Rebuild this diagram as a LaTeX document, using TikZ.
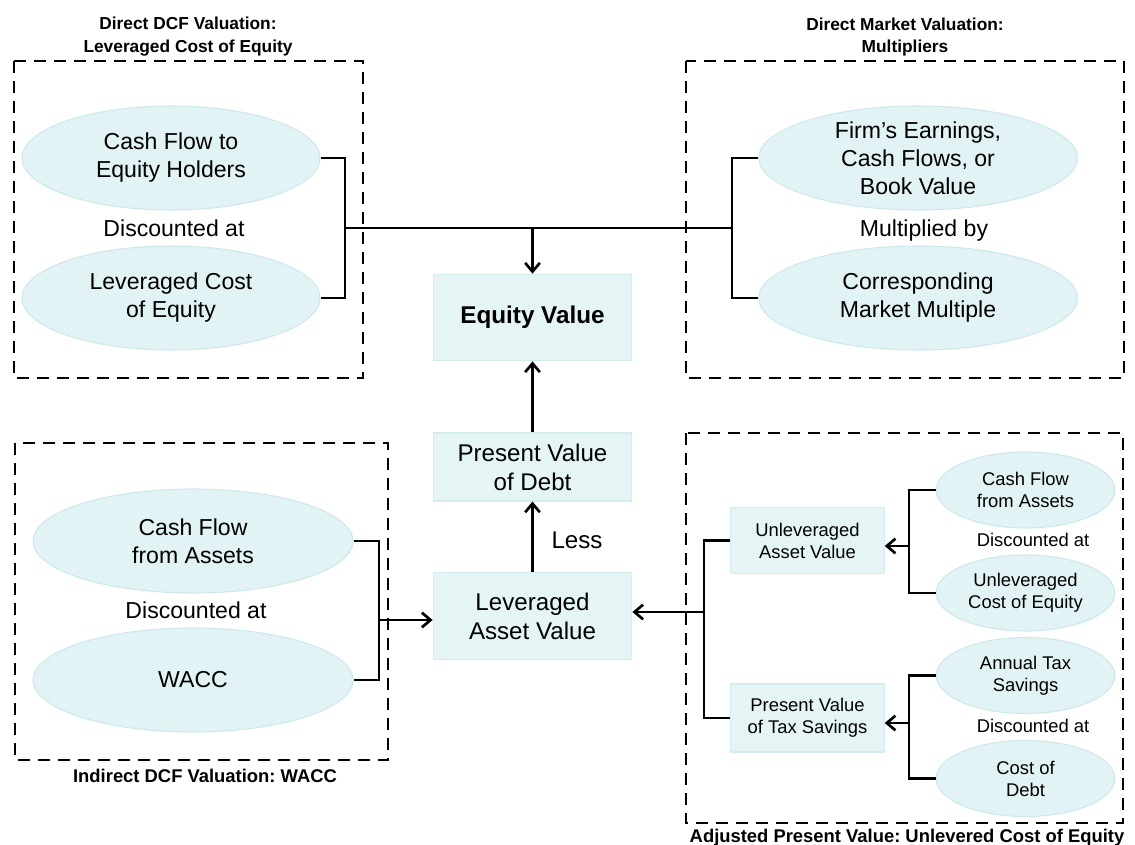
\documentclass[tikz,border=0pt]{standalone}
\usepackage{fontspec}
\setmainfont{Liberation Sans}
\frenchspacing
\usetikzlibrary{shapes.geometric,arrows.meta}
\definecolor{ellF}{HTML}{E2F3F5}
\definecolor{ellD}{HTML}{CDE8EC}
\definecolor{boxF}{HTML}{E5F5F5}
\definecolor{boxD}{HTML}{D3ECEE}
\begin{document}
\begin{tikzpicture}[x=0.75pt,y=-0.75pt,
  oval/.style={ellipse, draw=ellD, fill=ellF, line width=0.8pt, inner sep=0pt, align=center},
  vbox/.style={rectangle, draw=boxD, fill=boxF, line width=0.8pt, inner sep=0pt, align=center},
  frame/.style={draw, line width=2.1pt, dash pattern=on 9pt off 6pt},
  conn/.style={line width=2pt},
  arr/.style={conn, -{Straight Barb[length=6.5pt,width=11pt]}},
  big/.style={font=\fontsize{17.3}{21}\selectfont},
  mid/.style={font=\fontsize{18.1}{21.8}\selectfont},
  small/.style={font=\fontsize{13.8}{16.5}\selectfont},
  ttl/.style={font=\fontsize{13}{17.2}\selectfont\bfseries, align=center},
  ttlb/.style={font=\fontsize{13.8}{17}\selectfont\bfseries}]
\useasboundingbox (0,0) rectangle (1135,845);
\fill[white] (0,0) rectangle (1135,845);

% frames
\draw[frame] (14,61) rectangle (363,378);
\draw[frame] (686,61) rectangle (1124,378);
\draw[frame] (15,443) rectangle (388,760);
\draw[frame] (686,433) rectangle (1123,823);

% titles
\node[ttl] (t1) at (188,37) {Direct DCF Valuation:\\Leveraged Cost of Equity};
\node[ttl] (t2) at (905,37) {Direct Market Valuation:\\Multipliers};
\node[ttlb, anchor=base] (t3) at (205,782) {Indirect DCF Valuation: WACC};
\node[ttlb, anchor=base] (t4) at (907,842) {Adjusted Present Value: Unlevered Cost of Equity};

% top-left
\node[oval, big, minimum width=223.5pt, minimum height=78pt] (e1) at (171,158) {Cash Flow to\\Equity Holders};
\node[big, anchor=base] (d1) at (174,236) {Discounted at};
\node[oval, big, minimum width=223.5pt, minimum height=78pt] (e2) at (171,298) {Leveraged Cost\\of Equity};

% top-right
\node[oval, big, minimum width=239pt, minimum height=78pt] (f1) at (918,158) {Firm’s Earnings,\\Cash Flows, or\\Book Value};
\node[big, anchor=base] (m1) at (924,236) {Multiplied by};
\node[oval, big, minimum width=239pt, minimum height=78pt] (f2) at (918,298) {Corresponding\\Market Multiple};

% bottom-left
\node[oval, big, minimum width=240pt, minimum height=78pt] (c1) at (193,541) {Cash Flow\\from Assets};
\node[big, anchor=base] (d2) at (196,618) {Discounted at};
\node[oval, big, minimum width=240pt, minimum height=78pt] (c2) at (193,680) {WACC};

% center
\node[vbox, minimum width=149pt, minimum height=65pt, font=\fontsize{18.2}{21.8}\selectfont\bfseries] (ev) at (532.5,317.5) {Equity Value};
\node[vbox, mid, minimum width=149pt, minimum height=51pt] (pvd) at (532.5,467) {Present Value\\of Debt};
\node[vbox, mid, minimum width=149pt, minimum height=65pt] (lav) at (532.5,616) {Leveraged\\Asset Value};
\node[mid, anchor=base] (less) at (577,548) {Less};

% bottom-right
\node[vbox, small, minimum width=115pt, minimum height=50pt] (uav) at (807.5,540.5) {Unleveraged\\Asset Value};
\node[vbox, small, minimum width=115pt, minimum height=51pt] (pvts) at (807.5,718) {Present Value\\of Tax Savings};
\node[oval, small, minimum width=134pt, minimum height=57pt] (a1) at (1025.5,490) {Cash Flow\\from Assets};
\node[small, anchor=base] (d3) at (1033,546) {Discounted at};
\node[oval, small, minimum width=134pt, minimum height=57pt] (a2) at (1025.5,593) {Unleveraged\\Cost of Equity};
\node[oval, small, minimum width=134pt, minimum height=57pt] (a3) at (1025.5,675.5) {Annual Tax\\Savings};
\node[small, anchor=base] (d4) at (1033,732) {Discounted at};
\node[oval, small, minimum width=134pt, minimum height=57pt] (a4) at (1025.5,778.5) {Cost of\\Debt};

% junction coordinates
\coordinate (tlb) at (345,228);
\coordinate (trb) at (732,228);
\coordinate (blb) at (379,620);
\coordinate (brb) at (704,612);
\coordinate (ub) at (909,546);
\coordinate (pb) at (909,723);

% connectors
\draw[conn] (e1.east) -| (tlb) |- (e2.east);
\draw[conn] (f1.west) -| (trb) |- (f2.west);
\draw[conn] (tlb) -- (trb);
\draw[arr] (tlb -| ev.north) -- (ev.north);
\draw[conn] (c1.east) -| (blb) |- (c2.east);
\draw[arr] (blb) -- (blb -| lav.west);
\draw[arr] (lav.north) -- (pvd.south);
\draw[arr] (pvd.north) -- (ev.south);
\draw[conn] (uav.west) -| (brb) |- (pvts.west);
\draw[arr] (brb) -- (brb -| lav.east);
\draw[conn] (a1.west) -| (ub) |- (a2.west);
\draw[arr] (ub) -- (ub -| uav.east);
\draw[conn] (a3.west) -| (pb) |- (a4.west);
\draw[arr] (pb) -- (pb -| pvts.east);
\end{tikzpicture}
\end{document}
